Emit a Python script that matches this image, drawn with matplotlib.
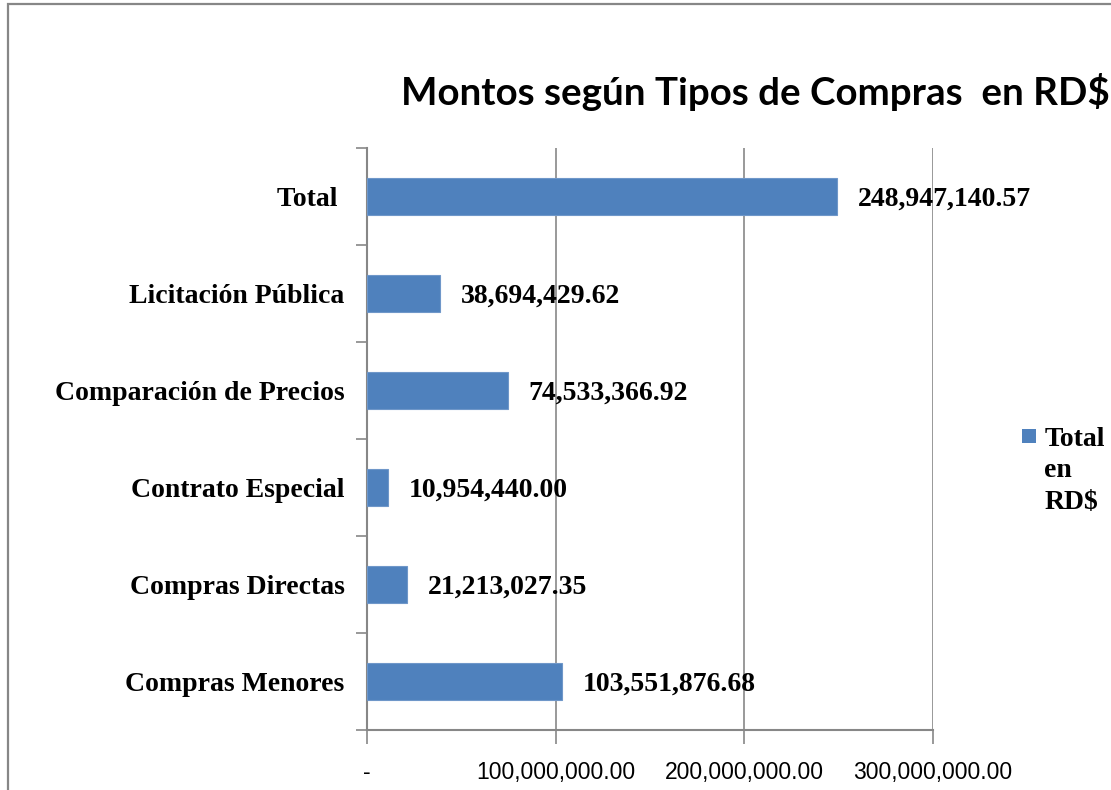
import numpy as np
import matplotlib
matplotlib.use("Agg")
import matplotlib.pyplot as plt
import matplotlib.patches as mpatches
from matplotlib.legend_handler import HandlerPatch

categorias = ["Compras Menores", "Compras Directas", "Contrato Especial",
              "Comparación de Precios", "Licitación Pública", "Total "]
montos = [103551876.68, 21213027.35, 10954440.00,
          74533366.92, 38694429.62, 248947140.57]
xticks = [0, 100000000, 200000000, 300000000]
serie = "Total\nen\nRD$"
titulo = "Montos según Tipos de Compras  en RD$"

AZUL = "#4F81BD"
GRIS = "#878787"
SERIF = ["Liberation Serif", "DejaVu Serif"]


class HandlerArriba(HandlerPatch):
    # cuadrito alineado con la primera linea del texto
    def create_artists(self, legend, orig_handle, xdescent, ydescent,
                       width, height, fontsize, trans):
        lado = 0.5 * fontsize
        shift = 1.25 * fontsize
        p = mpatches.Rectangle((-xdescent, -ydescent + (height - lado) / 2 + shift),
                               lado, lado, facecolor=AZUL, edgecolor="none",
                               transform=trans)
        return [p]


fig = plt.figure(figsize=(11.11, 7.9), dpi=100)
ax = fig.add_axes([0.3303, 0.0759, 0.5095, 0.7368])

y = np.arange(len(categorias))
barras = ax.barh(y, montos, height=0.38, color=AZUL, edgecolor="#6F97C9",
                 linewidth=0.8, zorder=3, label=serie)

for yi, v in zip(y, montos):
    ax.annotate(f"{v:,.2f}", xy=(v, yi), xytext=(15, -2), textcoords="offset points",
                va="center", ha="left", fontsize=20, fontweight="bold",
                family=SERIF, zorder=4)

ax.set_xlim(0, 300000000)
ax.set_ylim(-0.5, len(categorias) - 0.5)

ax.set_xticks(xticks)
ax.set_xticklabels(["-" if t == 0 else f"{t:,.2f}" for t in xticks],
                   family=["Liberation Sans", "DejaVu Sans"], fontsize=16.5)
ax.tick_params(axis="x", direction="out", length=10, color=GRIS, width=1.2, pad=12)

ax.set_yticks(y)
ax.set_yticklabels(categorias, family=SERIF, fontsize=20, fontweight="bold")
ax.set_yticks(np.arange(-0.5, len(categorias), 1), minor=True)
ax.tick_params(axis="y", which="major", length=0, pad=16)
ax.tick_params(axis="y", which="minor", direction="out", length=8, color=GRIS, width=1.2)

ax.grid(axis="x", color=GRIS, linewidth=1.2, zorder=0)
ax.set_axisbelow(True)
for s in ["top", "right"]:
    ax.spines[s].set_visible(False)
for s in ["left", "bottom"]:
    ax.spines[s].set_color(GRIS)
    ax.spines[s].set_linewidth(1.5)

fig.text(0.68, 0.884, titulo, ha="center", va="center", fontsize=27.7,
         fontweight="bold", family=["Lato", "DejaVu Sans"])

leg = fig.legend(handles=[barras], labels=[serie], loc="upper left",
                 bbox_to_anchor=(0.92, 0.46), frameon=False,
                 handler_map={barras: HandlerArriba()},
                 prop={"family": SERIF, "weight": "bold", "size": 20},
                 handlelength=0.5, handletextpad=0.3, borderpad=0, borderaxespad=0)
for t in leg.get_texts():
    t.set_linespacing(1.34)

# marco del grafico (recortado a la derecha y abajo)
fig.patches.append(mpatches.Rectangle((0.0072, -0.05), 1.05, 1.045,
                                      transform=fig.transFigure, fill=False,
                                      edgecolor=GRIS, linewidth=1.6))

fig.savefig("out.png", dpi=100)
